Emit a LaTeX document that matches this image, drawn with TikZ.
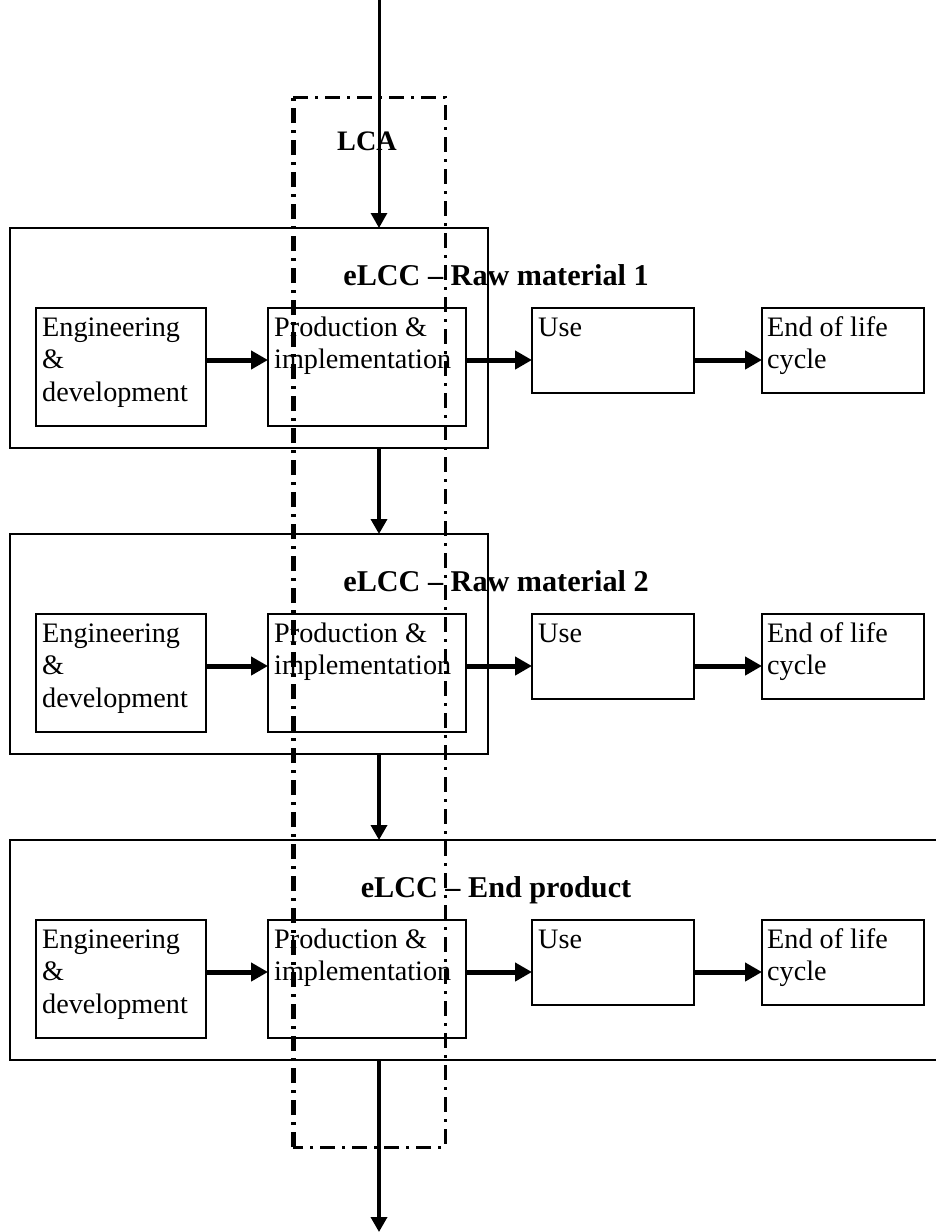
\documentclass[tikz,border=0pt]{standalone}
\usepackage{fontspec}
\setmainfont{Liberation Serif}
\usetikzlibrary{arrows.meta}

\tikzset{
  cycbox/.style={draw, line width=2pt, anchor=north west, inner sep=0pt, outer sep=0pt},
  stage/.style={draw, line width=2pt, anchor=north west, inner sep=0pt, outer sep=0pt},
  lbl/.style={anchor=base west, inner sep=0pt, font=\fontsize{28.2}{32.5}\selectfont},
  cctitle/.style={anchor=base, inner sep=0pt, font=\fontsize{30.2}{34}\selectfont\bfseries},
  flow/.style={line width=5pt, -{Triangle[length=17pt,width=18pt]}},
  flowdown/.style={line width=3.5pt, -{Triangle[length=15pt,width=16pt]}},
  lcaline/.style={line width=3pt, dash pattern=on 15pt off 7pt on 3pt off 7pt}
}

\begin{document}
\begin{tikzpicture}[x=1pt,y=-1pt]
    \useasboundingbox (0,0) rectangle (936,1232);
    \coordinate (in) at (379,0);
    \coordinate (out) at (379,1232);

    % one eLCC block per row
    \foreach \i/\top/\w/\name in {1/228/478/Raw material 1, 2/534/478/Raw material 2, 3/840/932/End product}
    {
        \begin{scope}[shift={(0,\top)}]
        \node[cycbox, minimum width=\w pt, minimum height=220pt] (cc\i) at (10,0) {};
        \node[cctitle] (t\i) at (496,57) {eLCC \textendash\ \name};
        \node[stage, minimum width=170pt, minimum height=118pt] (eng\i) at (36,80) {};
        \node[stage, minimum width=198pt, minimum height=118pt] (prod\i) at (268,80) {};
        \node[stage, minimum width=162pt, minimum height=85pt] (use\i) at (532,80) {};
        \node[stage, minimum width=162pt, minimum height=85pt] (end\i) at (762,80) {};
        \node[lbl] (engt\i) at (42,108) {\parbox[t]{165pt}{Engineering\\\&\\development}};
        \node[lbl] (prodt\i) at (274,108) {\parbox[t]{190pt}{Production \&\\implementation}};
        \node[lbl] (uset\i) at (538,108) {Use};
        \node[lbl] (endt\i) at (767,108) {\parbox[t]{155pt}{End of life\\cycle}};
        \coordinate (mid\i) at (0,132);
        \draw[flow] (eng\i.east |- mid\i) -- (prod\i.west |- mid\i);
        \draw[flow] (prod\i.east |- mid\i) -- (use\i.west |- mid\i);
        \draw[flow] (use\i.east |- mid\i) -- (end\i.west |- mid\i);
        \end{scope}
    }

    \draw[flowdown, line width=3pt] (in) -- (in |- cc1.north);
    \draw[flowdown] (in |- cc1.south) -- (in |- cc2.north);
    \draw[flowdown] (in |- cc2.south) -- (in |- cc3.north);
    \draw[flowdown] (in |- cc3.south) -- (out);

    % LCA boundary
    \draw[lcaline] (293,97) -- (445,97) -- (445,1147) -- (293,1147);
    \draw[lcaline, line width=5pt] (293,1147) -- (293,97);
    \node[cctitle, font=\fontsize{28.2}{32}\selectfont\bfseries] (lca) at (367,150) {LCA};
\end{tikzpicture}
\end{document}
